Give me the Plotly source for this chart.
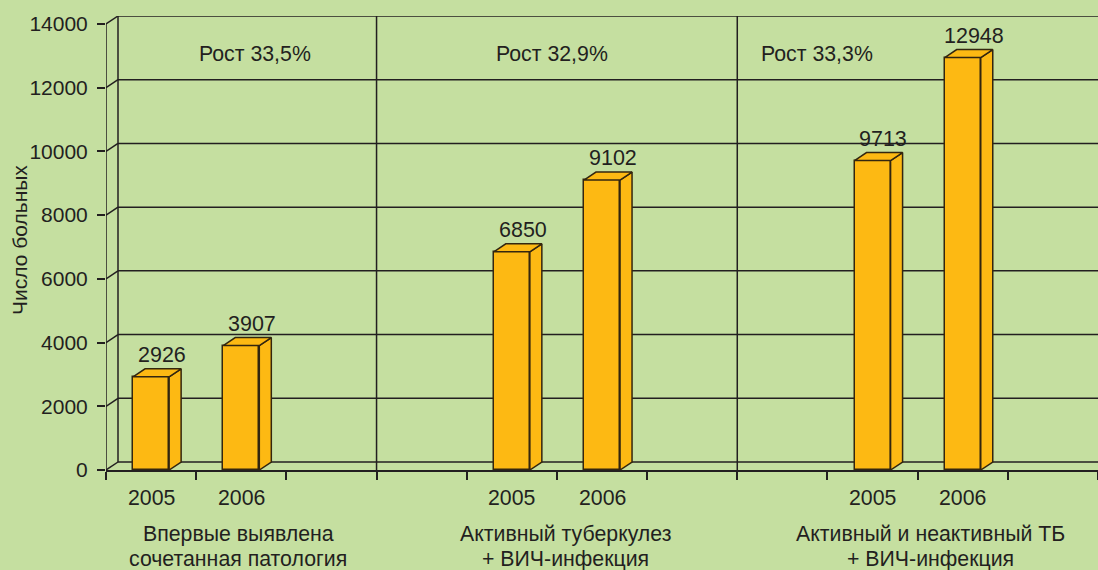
import plotly.graph_objects as go

# data
groups = [["Впервые выявлена", "сочетанная патология"],
          ["Активный туберкулез", "+ ВИЧ-инфекция"],
          ["Активный и неактивный ТБ", "+ ВИЧ-инфекция"]]
years = ["2005", "2006"]
values_2005 = [2926, 6850, 9713]
values_2006 = [3907, 9102, 12948]
growth = ["Рост 33,5%", "Рост 32,9%", "Рост 33,3%"]
y_ticks = [0, 2000, 4000, 6000, 8000, 10000, 12000, 14000]

# layout of the pseudo-3D frame (slot units on x, data units on y)
n_slots = 11
group_first_slot = [0, 4, 8]
dividers = [3, 7]
bar_w = 0.4
dx = 12 / 90.18          # depth offset to the right
dy = 251                 # depth offset upwards (8 px)
y_top = 14000 + dy

BG = "#c5dfa0"
ORANGE = "#fdb913"
EDGE = "#33260f"
INK = "#231f20"
FONT = "Liberation Sans, Arial, sans-serif"

xs, vals = [], []
for g, s in enumerate(group_first_slot):
    xs += [s + 0.5, s + 1.5]
    vals += [values_2005[g], values_2006[g]]

fig = go.Figure()

# front faces of the bars
fig.add_trace(go.Bar(x=xs, y=vals, width=bar_w, marker=dict(color=ORANGE, line=dict(color=EDGE, width=1.5)),
                     hoverinfo="skip", showlegend=False))

# side and top faces
side_x, side_y, top_x, top_y = [], [], [], []
for x, v in zip(xs, vals):
    l, r = x - bar_w / 2, x + bar_w / 2
    side_x += [r, r + dx, r + dx, r, r, None]
    side_y += [0, dy, v + dy, v, 0, None]
    top_x += [l, l + dx, r + dx, r, l, None]
    top_y += [v, v + dy, v + dy, v, v, None]
for fx, fy in [(side_x, side_y), (top_x, top_y)]:
    fig.add_trace(go.Scatter(x=fx, y=fy, mode="lines", fill="toself", fillcolor=ORANGE,
                             line=dict(color=EDGE, width=1.5), hoverinfo="skip", showlegend=False))

# frame: back-wall gridlines, diagonals, front axis, dividers
line = dict(color=INK, width=1.5)
shapes = []
for t in y_ticks:
    shapes.append(dict(type="line", xref="x", yref="y", x0=dx, x1=n_slots, y0=t + dy, y1=t + dy, line=line, layer="below"))
    shapes.append(dict(type="line", xref="x", yref="y", x0=0, x1=dx, y0=t, y1=t + dy, line=line, layer="below"))
shapes.append(dict(type="line", xref="x", yref="y", x0=dx, x1=dx, y0=dy, y1=y_top, line=line, layer="below"))
shapes.append(dict(type="line", xref="x", yref="y", x0=0, x1=0, y0=0, y1=14000, line=line, layer="below"))
for d in dividers:
    shapes.append(dict(type="line", xref="x", yref="y", x0=d, x1=d, y0=0, y1=y_top, line=line, layer="below"))

ann = []
# value labels above bars
for x, v in zip(xs, vals):
    ann.append(dict(x=x + dx * 0.9, y=v + dy, xref="x", yref="y", text=str(v), showarrow=False,
                    yanchor="bottom", yshift=0, font=dict(size=21.5, color=INK, family=FONT)))
# year labels
for x, yr in zip(xs, years * 3):
    ann.append(dict(x=x, y=0, xref="x", yref="paper", text=yr, showarrow=False,
                    yanchor="middle", yshift=-28, font=dict(size=21.3, color=INK, family=FONT)))
# group labels
group_x = [1.464, 5.09, 9.14]
for gx, lines in zip(group_x, groups):
    for i, t in enumerate(lines):
        ann.append(dict(x=gx, y=0, xref="x", yref="paper", text=t, showarrow=False,
                        yanchor="middle", yshift=-64 - 25 * i, font=dict(size=21.3, color=INK, family=FONT)))
# growth labels
growth_x = [1.652, 4.95, 7.88]
for gx, t in zip(growth_x, growth):
    ann.append(dict(x=gx, y=14000, xref="x", yref="y", text=t, showarrow=False,
                    yanchor="middle", yshift=-30, font=dict(size=21.3, color=INK, family=FONT)))
# y-axis title
ann.append(dict(x=-87 / 992, y=0.5, xref="paper", yref="paper", text="Число больных", textangle=-90,
                showarrow=False, xanchor="center", yanchor="middle", yshift=3,
                font=dict(size=21, color=INK, family=FONT)))

fig.update_layout(
    width=1098, height=570,
    margin=dict(l=106, r=0, t=16, b=100),
    paper_bgcolor=BG, plot_bgcolor=BG,
    shapes=shapes, annotations=ann,
    font=dict(family=FONT, color=INK, size=20),
    xaxis=dict(range=[0, n_slots], tickvals=list(range(n_slots + 1)), showticklabels=False,
               ticks="outside", ticklen=8, tickwidth=1.5, tickcolor=INK, automargin=False,
               showline=True, linecolor=INK, linewidth=1.5, showgrid=False, zeroline=False, fixedrange=True),
    yaxis=dict(range=[0, y_top], tickvals=y_ticks, ticktext=[str(t) for t in y_ticks],
               ticks="outside", ticklen=8, tickwidth=1.5, tickcolor=INK, automargin=False,
               ticklabelstandoff=5, tickfont=dict(size=21, color=INK, family=FONT),
               showline=False, showgrid=False, zeroline=False, fixedrange=True),
    bargap=0,
)

# the page body has a default 8px margin; drop it so the figure fills the window
fig.write_html("out.html", config={"displayModeBar": False},
               post_script="document.body.style.margin='0';")
